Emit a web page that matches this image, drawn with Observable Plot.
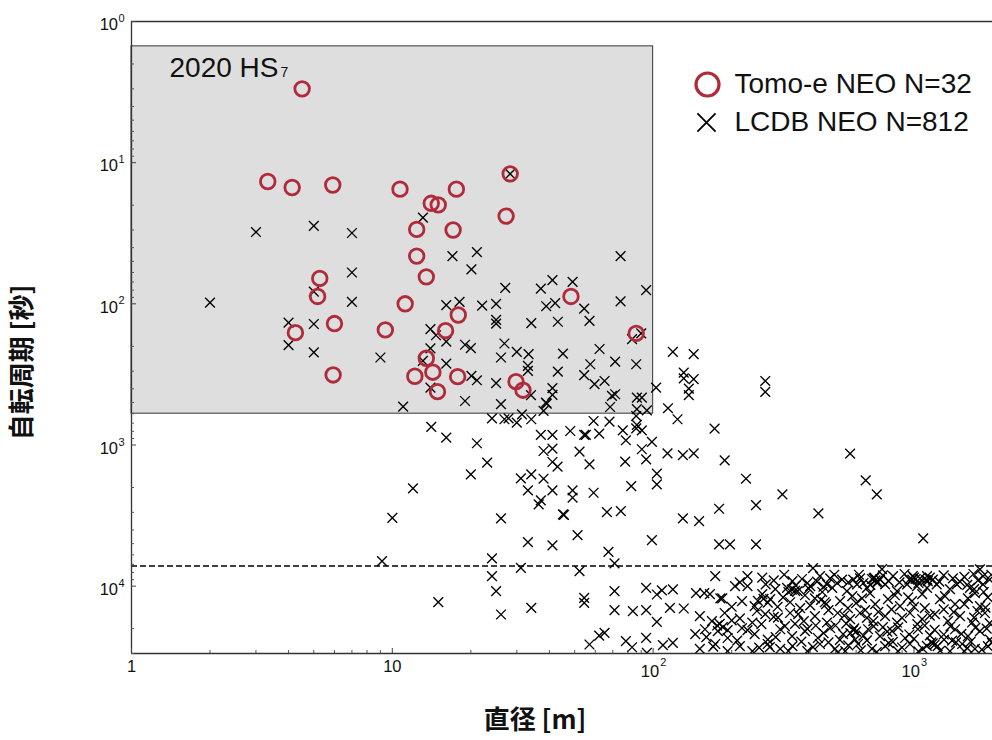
<!DOCTYPE html>
<html><head><meta charset="utf-8">
<script src="https://cdn.jsdelivr.net/npm/d3@7"></script>
<script src="https://cdn.jsdelivr.net/npm/@observablehq/plot@0.6"></script>
<style>
html,body{margin:0;padding:0;background:#fff;}
</style></head><body>
<script>
// Tomo-e NEO: [diameter m, rotation period s]
const tomoe = [
  [4.51,3.0],[3.33,13.6],[4.13,15.0],[5.91,14.4],[10.7,15.4],[28.3,12.0],[17.6,15.4],[14.1,19.4],
  [15.0,19.9],[27.3,23.9],[12.4,29.7],[17.1,30.0],[12.4,45.9],[13.5,64.4],[11.2,100],[48.4,88.7],
  [17.9,120],[9.4,153],[16.0,155],[86.1,162],[13.5,243],[12.2,326],[14.3,305],[14.9,419],
  [17.8,328],[29.8,356],[31.7,409],[5.27,66.1],[5.17,88.7],[6.0,138],[4.25,160],[5.93,319]
];
// LCDB NEO (visible part): [diameter m, rotation period s]
const lcdb = [
  [2.0,98],[3.0,31],[5.0,28],[7.0,31.5],[7.0,60],[5.0,82],[7.0,97],[4.0,136],[5.0,139],[4.0,196],
  [5.0,221],[9.0,240],[11.0,535],[13.1,24.5],[28.3,12.0],[17.0,46],[21.1,43],[20.1,57],[75,46],[27.1,77],
  [37.1,78],[41.1,68],[49.1,70],[94,80],[16.1,102],[18.1,97],[22.1,103],[25.0,100],[38.9,104],[42.1,99],
  [54.4,108],[75,96],[25.0,130],[25.0,138],[34.1,137],[43.1,134],[57.0,132],[14.0,151],[14.7,167],[16.1,185],
  [90,162],[83,178],[14.0,207],[19.0,195],[20.0,206],[26.9,191],[26.1,240],[30.0,219],[33.3,227],[45.1,225],
  [62.3,209],[16.1,265],[13.1,254],[33.1,275],[33.1,299],[43.1,302],[57.4,268],[71.5,257],[86.1,268],[20.1,324],
  [21.1,348],[25.0,365],[54.4,320],[59.6,371],[65.1,352],[14.0,392],[34.0,444],[41.1,396],[41.1,442],[38.8,501],
  [69.5,449],[71.5,437],[86.6,462],[90.5,462],[102.6,392],[19.0,488],[26.1,514],[39.1,510],[68.4,538],[94.6,568],
  [86.6,558],[38.0,574],[114,549],[124,657],[24.1,647],[26.9,657],[27.9,647],[30.0,695],[31.4,606],[34.1,657],
  [59.1,676],[68.0,684],[86.1,623],[86.6,721],[86.1,762],[90.5,787],[14.1,745],[16.1,888],[21.1,972],[37.1,849],
  [41.1,849],[48.1,796],[54.4,849],[55.2,849],[62.1,831],[76.5,787],[78.6,926],[98.9,952],[38.0,1103],[41.1,1062],
  [52.2,1116],[90.5,1072],[113.5,1145],[130,1178],[23.1,1335],[41.1,1320],[43.0,1425],[57.0,1371],[78.1,1313],[94.0,1263],
  [20.0,1614],[31.1,1722],[34.1,1614],[38.0,1734],[103.3,1597],[103.3,1900],[82.4,1954],[12.0,2028],[33.1,2096],[41.1,2096],
  [49.1,2096],[49.1,2364],[59.1,2179],[37.1,2467],[36.4,2635],[45.1,3100],[45.5,3130],[66.5,2987],[75.2,2939],[10.0,3279],
  [26.1,3311],[130,3311],[51.3,4348],[33.1,4875],[41.1,5142],[98.9,4717],[67.4,5711],[71.1,6902],[9.13,6650],[24.1,6364],
  [24.1,8492],[25.0,10840],[26.1,15880],[31.1,7415],[52.2,7830],[15.0,12980],[34.1,14260],[54.4,12110],[54.4,13130],[71.1,10840],
  [71.1,14800],[94.0,10280],[103.3,11460],[108,10730],[119,10550],[83.6,15040],[94.0,14800],[103.3,17910],[116,14260],[131,14400],
  [57.0,25900],[62.1,22390],[65.1,21430],[78.6,24550],[83.0,27100],[94.0,23270],[109,26200],[119,25240],[94.6,29720],[119,219],
  [143,227],[131,307],[131,337],[143,342],[137,399],[137,444],[269,352],[269,421],[172,766],[143,1145],
  [188,1284],[569,1153],[227,1734],[653,1779],[313,2238],[720,2238],[248,2666],[179,2830],[430,3050],[150,3460],
  [179,5060],[197,5060],[248,5060],[1085,4590],
  // dense region
  [146,11200],[157,11200],[165,11400],[173,8500],[184,12200],[206,10000],[215,9400],[230,8500],[270,9700],[294,10500],
  [326,10300],[342,9200],[358,10850],[390,9500],[400,10000],[410,7450],[436,8500],[464,9700],[477,8800],[486,10300],
  [507,9500],[553,10850],[585,9000],[605,9700],[621,8800],[660,10300],[700,8800],[722,9500],[741,9000],[754,7570],
  [775,9700],[831,8500],[861,10850],[941,9700],[990,8500],[1027,10000],[1054,8800],[1122,10300],[1122,8500],[1181,9000],
  [1222,9700],[1374,10500],[1410,8800],[1501,9300],[1639,10300],[1690,8200],[1790,7600],[1840,8500],[1840,9700],
  [181,12200],[219,12780],[245,13860],[281,12350],[335,13000],[366,14300],[417,12200],[460,13400],[521,12780],[558,14300],
  [632,12200],[710,13400],[795,12350],[884,13860],[982,12780],[1100,14300],[1258,12350],[1437,13400],[1610,12200],[1790,13860],
  [262,11400],[315,12000],[382,11600],[445,11000],[580,11770],[678,11200],[845,11600],[1075,11400],[1315,11770],[1712,11200],[1920,12000],
  [151,16320],[168,17710],[188,15500],[215,16900],[240,18100],[269,15800],[301,16700],[335,15500],[378,17710],[417,16320],
  [464,18100],[510,15500],[569,17100],[621,15500],[698,17710],[775,16320],[861,18100],[965,15500],[1075,17100],[1203,15800],
  [1350,17710],[1501,16320],[1670,18100],[1870,15500],
  [145,21900],[158,20200],[177,20850],[193,23300],[219,19800],[245,21900],[275,23900],[307,20200],[341,22620],[382,20850],
  [428,23300],[477,19800],[535,21900],[595,23900],[667,20200],[741,22620],[824,20850],[924,23300],[1035,20200],[1151,22300],
  [1304,23900],[1437,20200],[1610,22620],[1790,20850],[1955,23900],
  [151,27800],[173,25700],[193,28900],[215,26640],[240,28900],[275,25700],[307,27800],[342,26640],[390,28900],[436,25700],
  [498,27800],[545,28900],[610,25700],[690,27800],[775,26640],[868,28900],[965,25700],[1081,27800],[1232,26640],[1374,28900],
  [1530,25700],[1712,27800],[1920,26640],
  [690,8900],[712,9100],[705,8700],[725,9300],[1000,8700],[1015,8900],[985,9000],[1130,9200],[1110,9050],
  [340,10600],[350,10800],[330,11000],[585,20500],[600,21000],[570,21500],[590,19900],[1180,25400],[1200,26000],[1165,25000],
  [176,19000],[185,19500],[193,20500],[180,18500],[252,12700],[265,12300],[275,13100],[440,12500],[455,13000],
  [1600,9800],[1700,10500],[1850,11000],[1950,9000],
  [300,14000],[420,19000],[520,24000],[650,14800],[760,19500],[830,24800],[950,12000],[1100,19000],[1300,22000],[1450,25000],
  [1600,27500],[1750,15000],[1900,20000],[280,27000],[350,18500],[230,10000],[200,14000],[160,23000],[625,28500],[1040,29000],
  [262,8700],[290,9100],[318,8300],[352,9900],[372,8900],[395,10400],[425,9300],[450,10100],[495,8300],[530,9000],
  [560,9400],[615,8300],[640,9500],[680,9800],[760,8400],[800,9200],[880,9400],[920,8200],[960,9000],[1040,9500],
  [1150,8700],[1250,9300],[1300,8400],[1460,9700],[1560,8600],[1760,9100],[1980,8300],
  [250,15000],[290,16500],[360,15800],[400,13700],[470,14800],[540,16200],[600,13200],[660,16800],[730,15200],[820,14600],
  [900,16800],[1000,14000],[1150,16200],[1300,14600],[1420,15300],[1560,13400],[1700,16700],[1880,14200],
  [200,17500],[230,20500],[260,18600],[320,19200],[390,20100],[450,21500],[500,19000],[550,18400],[640,22400],[700,19300],
  [790,21000],[870,19600],[960,22000],[1030,18600],[1200,20400],[1380,19300],[1520,21800],[1720,19700],[1950,18300],
  [170,26800],[210,24300],[255,27300],[295,23000],[330,28800],[370,24700],[410,27000],[470,25000],[510,29500],[560,26300],
  [660,24200],[720,29300],[800,25300],[900,27200],[1000,23600],[1120,26500],[1260,28700],[1400,24300],[1560,29000],[1650,24700],
  [1820,28200],[1990,25200]
];
// Highlighted search region (1–100 m, 1.5–600 s) and the 2-hour line
const searchBox = [{d1: 1, d2: 100, p1: 1.5, p2: 600}];
const twoHours = [7200];
// Tick labels
const yTickValues = [1, 10, 100, 1000, 10000];
const yTickExponents = ["0", "1", "2", "3", "4"];
const xPlainTicks = [1, 10];
const xPlainLabels = ["1", "10"];
const xPowTicks = [100, 1000];
const xPowExponents = ["2", "3"];
const legendLabels = ["Tomo-e NEO N=32", "LCDB NEO N=812"];
const annotation = ["2020 HS", "7"];
const xTitle = "直径 [m]";
const yTitle = "自転周期 [秒]";

// minor ticks (axis decoration)
const yMinor = [], xMinor = [];
for (let k = 0; k <= 4; k++) for (let m = 2; m <= 9; m++) { const v = m * 10 ** k; if (v <= 30000) yMinor.push(v); }
for (let k = 0; k <= 3; k++) for (let m = 2; m <= 9; m++) { const v = m * 10 ** k; if (v <= 2000) xMinor.push(v); }

const W = 992, H = 740, mL = 131, mT = 21, mB = 87, mR = 0;
const pw = W - mL - mR, ph = H - mT - mB;
const red = "#b12a3a";
const sans = "Liberation Sans, Arial, Helvetica, sans-serif";
const cjk = "Noto Sans CJK JP, sans-serif";

const chart = Plot.plot({
  width: W, height: H,
  marginLeft: mL, marginTop: mT, marginBottom: mB, marginRight: mR,
  style: {fontFamily: sans, background: "#fff", color: "#000"},
  x: {type: "log", domain: [1, 2000], axis: null},
  y: {type: "log", domain: [1, 30000], reverse: true, axis: null},
  marks: [
    Plot.rect(searchBox, {x1: "d1", x2: "d2", y1: "p1", y2: "p2", fill: "#dedede", stroke: "#333", strokeWidth: 1}),
    Plot.ruleY(twoHours, {stroke: "#000", strokeWidth: 1.4, strokeDasharray: "6,3"}),
    Plot.dot(lcdb, {x: d => d[0], y: d => d[1], symbol: "times", r: 4.5, stroke: "#000", strokeWidth: 1.35, clip: true}),
    Plot.dot(tomoe, {x: d => d[0], y: d => d[1], r: 7.3, stroke: red, strokeWidth: 2.8, fill: "none", clip: true}),
    // frame
    Plot.ruleX([1], {stroke: "#333", strokeWidth: 1.3}),
    Plot.ruleY([1, 30000], {stroke: "#333", strokeWidth: 1.3}),
    // ticks (inward)
    Plot.tickY(yMinor, {y: d => d, insetRight: pw - 3, stroke: "#555", strokeWidth: 1}),
    Plot.tickY(yTickValues, {y: d => d, insetRight: pw - 5, stroke: "#444", strokeWidth: 1}),
    Plot.tickX(xMinor, {x: d => d, insetTop: ph - 3, stroke: "#555", strokeWidth: 1}),
    Plot.tickX(xPlainTicks.concat(xPowTicks), {x: d => d, insetTop: ph - 5, stroke: "#444", strokeWidth: 1}),
    // y tick labels
    Plot.text(yTickValues, {y: d => d, frameAnchor: "left", text: () => "10", dx: -13.5, dy: 3.5, textAnchor: "end", lineAnchor: "middle", fontSize: 16.5, fill: "#111"}),
    Plot.text(yTickValues, {y: d => d, frameAnchor: "left", text: (d, i) => yTickExponents[i], dx: -13, dy: -3, textAnchor: "start", lineAnchor: "middle", fontSize: 11, fill: "#111"}),
    // x tick labels
    Plot.text(xPlainTicks, {x: d => d, frameAnchor: "bottom", text: (d, i) => xPlainLabels[i], dy: 13, textAnchor: "middle", lineAnchor: "middle", fontSize: 16.5, fill: "#111"}),
    Plot.text(xPowTicks, {x: d => d, frameAnchor: "bottom", text: () => "10", dx: 6, dy: 18, textAnchor: "end", lineAnchor: "middle", fontSize: 16.5, fill: "#111"}),
    Plot.text(xPowTicks, {x: d => d, frameAnchor: "bottom", text: (d, i) => xPowExponents[i], dx: 7, dy: 9, textAnchor: "start", lineAnchor: "middle", fontSize: 11, fill: "#111"}),
    // annotation
    Plot.text([annotation[0]], {frameAnchor: "top-left", dx: 38, dy: 55, lineAnchor: "bottom", textAnchor: "start", fontSize: 28, fill: "#111"}),
    Plot.text([annotation[1]], {frameAnchor: "top-left", dx: 149, dy: 55, lineAnchor: "bottom", textAnchor: "start", fontSize: 14, fill: "#111"}),
    // legend
    Plot.dot([0], {frameAnchor: "top-left", dx: 576, dy: 63, r: 11.5, stroke: red, strokeWidth: 3.2, fill: "none"}),
    Plot.dot([0], {frameAnchor: "top-left", dx: 575, dy: 101, r: 8.3, symbol: "times", stroke: "#000", strokeWidth: 1.8}),
    Plot.text([legendLabels[0]], {frameAnchor: "top-left", dx: 603, dy: 63, textAnchor: "start", lineAnchor: "middle", fontSize: 28, fill: "#111"}),
    Plot.text([legendLabels[1]], {frameAnchor: "top-left", dx: 603, dy: 101, textAnchor: "start", lineAnchor: "middle", fontSize: 28, fill: "#111"}),
    // axis titles
    Plot.text([xTitle], {frameAnchor: "bottom", dx: -27, dy: 67, textAnchor: "middle", lineAnchor: "middle", fontSize: 26, fontWeight: "bold", fontFamily: cjk, fill: "#111"}),
    Plot.text([yTitle], {frameAnchor: "left", dx: -109, dy: 25, rotate: -90, textAnchor: "middle", lineAnchor: "middle", fontSize: 26, fontWeight: "bold", fontFamily: cjk, fill: "#111"})
  ]
});
document.body.appendChild(chart);
</script>
</body></html>
